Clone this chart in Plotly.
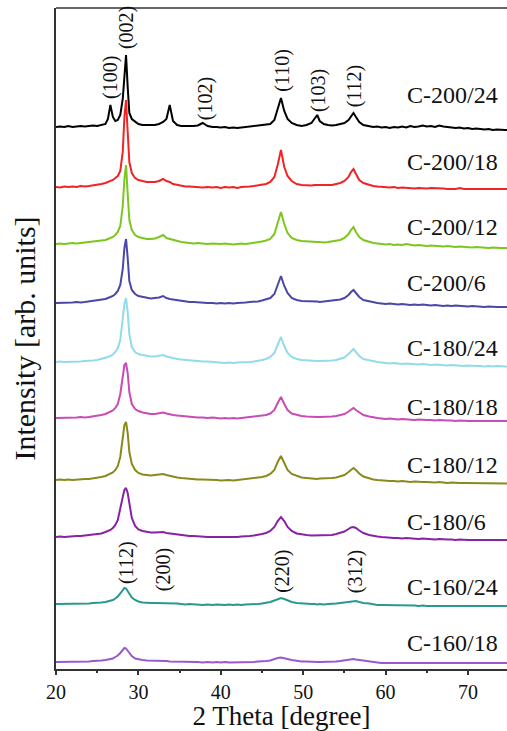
import plotly.graph_objects as go

# 2-theta sample positions (degrees)
two_theta = [
    20.0, 20.5, 21.0, 21.5, 22.0, 22.5, 23.0, 23.5, 24.0, 24.5, 25.0, 25.5,
    26.0, 26.3, 26.6, 26.9, 27.2, 27.5, 27.8, 28.1, 28.3, 28.5, 28.7, 28.9, 29.2, 29.6, 30.0, 30.5,
    31.0, 31.5, 32.0, 32.5, 33.0, 33.4, 33.8, 34.2, 34.7, 35.2, 35.7, 36.2, 36.7, 37.2, 37.8, 38.4, 39.0, 39.5,
    40.0, 40.5, 41.0, 41.5, 42.0, 42.5, 43.0, 43.5, 44.0, 44.5, 45.0, 45.5, 46.0, 46.5, 46.9, 47.3, 47.7, 48.1, 48.6, 49.2, 49.8,
    50.4, 51.0, 51.4, 51.7, 52.0, 52.5, 53.0, 53.5, 54.0, 54.5, 55.0, 55.5, 55.8, 56.1, 56.4, 56.8, 57.3, 58.0, 58.5, 59.0, 59.5,
    60.0, 60.5, 61.0, 61.5, 62.0, 62.5, 63.0, 63.5, 64.0, 64.5, 65.0, 65.5, 66.0, 66.5, 67.0, 67.5,
    68.0, 68.5, 69.0, 69.5, 70.0, 70.5, 71.0, 71.5, 72.0, 72.5, 73.0, 73.5, 74.0, 74.5, 75.0,
]

sample_names = ["C-200/24", "C-200/18", "C-200/12", "C-200/6", "C-180/24",
                "C-180/18", "C-180/12", "C-180/6", "C-160/24", "C-160/18"]

# vertical stacking offsets (arb. units)
offsets = [542, 482, 425, 366, 307, 251, 189, 132, 65, 7]

I_200_24 = [
    0, 0.5, 0, 1, 0, 0.5, 1, 0.5, 1, 1.5, 1, 2,
    3, 8, 22, 10, 6, 7, 12, 28, 50, 72, 40, 14, 8, 5, 3, 2,
    2, 1.5, 2, 3, 5, 8, 22, 6, 2, 1, 1, 0.5, 1, 1.5, 4, 1, 0, 0,
    -0.5, 0, -1, -0.5, -1, -0.5, 0, 0, 0.5, 1, 1.5, 2, 3, 7, 18, 29, 16, 8, 4, 2, 1,
    2, 4, 8, 12, 6, 3, 2, 1.5, 2, 3, 4, 7, 11, 14, 10, 5, 2, 0.5, 0, 0.5, -0.5,
    0, -1, 0, -0.5, 0.5, -0.5, 1, 0, 0.5, 1.5, 0.5, 1, 0, 1.5, 0.5, 0,
    -0.5, -1, -0.5, -1.5, -1, -2, -1.5, -2, -2.5, -2, -3, -2.5, -3, -3, -3,
]
I_200_18 = [
    0, -0.5, 0.5, 0, 0.5, 0, 1, 0.5, 1, 1.5, 2, 3,
    4, 5, 6, 7, 9, 11, 16, 35, 70, 87, 55, 25, 14, 9, 7, 6,
    5, 5, 5, 6, 8, 6, 5, 3, 2, 1, 0.5, 0.5, 0, 0, -0.5, 0, -0.5, 0,
    -1, 0, -0.5, 0, -1, 0, 0, 0.5, 1, 1.5, 2, 3, 5, 10, 22, 37, 20, 11, 6, 3, 2,
    1.5, 1.5, 2, 2, 1.5, 1.5, 2, 2, 3, 4, 6, 10, 15, 18, 13, 7, 4, 2, 1, 0.5, 0,
    0, -0.5, 0, -1, -0.5, -1, -1, -1.5, -1, -1.5, -1.5, -1, -1, -1.5, -1.5, -2,
    -2, -2, -1, -2, -2, -2, -2, -2, -2, -2, -2, -2, -2, -2, -2,
]
I_200_12 = [
    0, 0.5, 0, 0.5, 1, 0.5, 1, 1, 1.5, 2, 2.5, 3,
    4, 5, 6, 7, 9, 12, 18, 38, 65, 79, 50, 24, 14, 9, 7, 6,
    5, 5, 5.5, 7, 9, 6, 5, 4, 3, 2, 1.5, 1, 0.5, 1, 0.5, 0, 0.5, 0,
    0, 0.5, 0, -0.5, 0, 0.5, 0, 0.5, 1, 2, 2.5, 3.5, 5, 10, 22, 32, 20, 11, 6, 4, 3,
    2.5, 2, 2, 2, 2, 1.5, 2, 2.5, 3, 4, 6, 10, 14, 17, 12, 7, 4, 2, 1, 0.5, 0,
    -0.5, 0, -1, -0.5, -1, 0, -1, -1.5, -1, -1.5, -2, -1.5, -2, -2, -2.5, -2,
    -2.5, -3, -2.5, -3, -3, -3.5, -3, -3.5, -3.5, -4, -3.5, -4, -4, -4, -4,
]
I_200_6 = [
    0, 0, 0.5, 0, 0.5, 1, 0.5, 1, 1.5, 2, 2.5, 3.5,
    4, 5, 6, 7, 9, 12, 18, 34, 55, 64, 45, 22, 13, 9, 7, 6,
    5, 4.5, 5, 5.5, 7, 5, 4, 3.5, 2.5, 2, 1.5, 1, 1, 0.5, 0.5, 0, 0, -0.5,
    0, -0.5, 0, -0.5, 0, 0, 0.5, 1, 1, 1.5, 2.5, 3.5, 5, 9, 19, 27, 17, 10, 5, 3, 2,
    2, 1.5, 1.5, 1.5, 1, 1.5, 1.5, 2, 2.5, 3.5, 5, 8, 11, 13, 10, 6, 3, 1.5, 0.5, 0, -0.5,
    -1, -0.5, -1, -1.5, -1, -1.5, -2, -1.5, -2, -1.5, -2, -2.5, -2, -2.5, -3, -2.5,
    -3, -2.5, -3, -3, -3.5, -3, -3.5, -3.5, -4, -3.5, -4, -4, -4, -4, -4,
]
I_180_24 = [
    0, 0.5, 0, 0, 0.5, 0, 0.5, 1, 1, 1.5, 2, 3,
    4, 5, 6, 7.5, 10, 14, 22, 42, 58, 64, 50, 28, 15, 10, 8, 7,
    6, 5.5, 5.5, 6, 7, 5.5, 4.5, 4, 3, 2.5, 2, 1.5, 1, 1, 0.5, 0.5, 0, -0.5,
    -0.5, -1, -0.5, -1, -0.5, -0.5, 0, 0, 0.5, 1, 2, 3, 5, 9, 18, 25, 16, 9, 5, 3, 2,
    1.5, 1, 1, 1, 1, 1, 1.5, 1.5, 2, 3, 4.5, 8, 11, 13, 10, 6, 3, 1.5, 0.5, 0, -0.5,
    -1, -1.5, -1, -1.5, -2, -1.5, -2, -2, -2.5, -2, -2.5, -3, -2.5, -3, -3, -3.5,
    -3, -3.5, -3.5, -4, -3.5, -4, -4, -4, -4.5, -4, -4.5, -4, -4.5, -4.5, -4.5,
]
I_180_18 = [
    0, 0, 0.5, 0, 0.5, 0.5, 1, 0.5, 1, 1.5, 2, 3,
    4, 5, 6, 7.5, 10, 14, 24, 42, 53, 55, 45, 26, 14, 9, 7, 5.5,
    4.5, 4, 4, 4.5, 5.5, 4.5, 3.5, 3, 2.5, 2, 1.5, 1, 1, 0.5, 0.5, 0, 0.5, 0,
    -0.5, 0, -0.5, 0, -0.5, 0, 0.5, 0.5, 1, 1.5, 2, 3, 4.5, 8, 15, 21, 14, 8, 4.5, 3, 2,
    1.5, 1, 1, 1, 1, 1, 1, 1.5, 2, 3, 4, 6.5, 8.5, 10, 8, 5.5, 3, 1.5, 0.5, 0, -0.5,
    -1, -0.5, -1, -1.5, -1, -1.5, -1.5, -2, -1.5, -2, -2, -2, -2.5, -2, -2.5, -2.5,
    -2.5, -3, -2.5, -3, -3, -3, -3, -3, -3, -3, -3, -3, -3, -3, -3,
]
I_180_12 = [
    0, 0.5, 0, 0.5, 0, 0.5, 1, 1, 1, 1.5, 2, 3,
    4, 5, 6, 7.5, 10, 14, 23, 42, 55, 58, 47, 28, 16, 10, 7, 5.5,
    5, 4.5, 5, 5.5, 6, 5, 4, 3, 2.5, 2, 1.5, 1, 1, 0.5, 0.5, 0.5, 0, 0,
    -0.5, 0, 0, -0.5, 0, 0, 0.5, 1, 1.5, 2, 3, 4, 6, 10, 18, 24, 17, 10, 6, 4, 2.5,
    2, 1.5, 1.5, 1, 1.5, 1.5, 2, 2, 2.5, 3.5, 5, 8, 10.5, 12, 10, 6.5, 3.5, 1.5, 0.5, 0, -0.5,
    -0.5, -1, -1, -1.5, -1, -1.5, -2, -1.5, -2, -2, -2, -2.5, -2.5, -2, -2.5, -3,
    -2.5, -3, -3, -3, -3, -3, -3.5, -3, -3, -3.5, -3, -3.5, -3.5, -3.5, -3.5,
]
I_180_6 = [
    0, 0.5, 0, 0.5, 0.5, 1, 1, 1.5, 1.5, 2, 2.5, 3.5,
    5, 6, 7, 9, 12, 17, 27, 40, 47, 49, 44, 32, 19, 11, 7.5, 6,
    5, 4.5, 4.5, 4.5, 5, 4, 3.5, 3, 2.5, 2, 1.5, 1, 1, 0.5, 0.5, 0, 0, 0,
    0, -0.5, 0, 0, 0, 0.5, 0.5, 1, 1.5, 2, 3, 4, 6, 10, 16, 20, 16, 10, 6, 3.5, 2.5,
    2, 1.5, 1.5, 1.5, 1.5, 1.5, 2, 2, 3, 4, 5.5, 8, 9.5, 10, 9, 6.5, 4, 2, 1, 0.5, 0,
    -0.5, -0.5, -1, -1, -1.5, -1, -1.5, -1.5, -2, -1.5, -2, -2, -2.5, -2, -2.5, -2.5,
    -2.5, -3, -2.5, -3, -3, -3, -3, -3, -3, -3, -3, -3, -3, -3, -3,
]
I_160_24 = [
    0, 0, 0.5, 0, 0, 0.5, 0, 0.5, 0.5, 1, 1, 1.5,
    2, 2.5, 3, 4, 5.5, 7.5, 10.5, 14, 16, 15.5, 13, 10, 6.5, 4, 2.5, 1.5,
    1, 1, 1, 1, 1, 1, 0.5, 0.5, 0.5, 0, -0.5, 0, -0.5, -0.5, -1, -0.5, -1, -0.5,
    -1, -1, -0.5, -1, -0.5, -1, -0.5, -0.5, 0, 0, 0.5, 1, 2, 3.5, 5, 6, 5, 3.5, 2, 1, 0.5,
    0, 0, 0, -0.5, 0, -0.5, 0, 0, 0.5, 1, 1.5, 2.5, 3, 3, 3, 2, 1, 0.5, -0.5, -1, -1,
    -1, -1, -1.5, -1, -1.5, -1.5, -1.5, -1.5, -2, -1.5, -2, -2, -2, -2, -2, -2,
    -2, -2, -2, -2, -2, -2, -2, -2, -2, -2, -2, -2, -2, -2, -2,
]
I_160_18 = [
    0, 0, 0.5, 0, 0.5, 0, 0.5, 0.5, 0.5, 1, 1, 1.5,
    2, 2.5, 3, 3.5, 5, 6.5, 9, 12, 14, 13.5, 11.5, 9, 6, 3.5, 2.5, 2,
    1.5, 1.5, 1, 1, 1, 1, 0.5, 0.5, 0.5, 0, 0, 0, 0, 0, -0.5, 0, -0.5, 0,
    -0.5, 0, -0.5, -0.5, 0, -0.5, 0, 0, 0, 0.5, 0.5, 1, 1.5, 3, 4, 4.5, 4, 3, 2, 1, 0.5,
    0.5, 0, 0, 0, 0, 0, 0, 0, 0.5, 1, 1.5, 2.5, 3, 3, 2.5, 2, 1, 0, -0.5, -0.5, -1,
    -1, -1, -1, -1, -1, -1, -1, -1, -1, -1, -1, -1, -1, -1, -1, -1,
    -1, -1, -1, -1, -1, -1, -1, -1, -1, -1, -1, -1, -1, -1, -1,
]

intensities = [I_200_24, I_200_18, I_200_12, I_200_6, I_180_24,
               I_180_18, I_180_12, I_180_6, I_160_24, I_160_18]

line_colors = ["#000000", "#f02424", "#7cc61e", "#4b47a8", "#92dbe8",
               "#c84cb4", "#8a8a1c", "#8a22a6", "#2a998c", "#9a58d0"]

# sample-name label heights (arb. units)
name_y = [574, 507, 442, 386, 321, 262, 204, 147, 82, 26]
name_x = 62.3

# Miller indices annotations
hkl_top = ["(100)", "(002)", "(102)", "(110)", "(103)", "(112)"]
hkl_top_x = [26.55, 28.5, 38.1, 47.4, 51.8, 56.2]
hkl_top_y = [592, 641, 570, 599, 578, 583]
hkl_bot = ["(112)", "(200)", "(220)", "(312)"]
hkl_bot_x = [28.5, 33.0, 47.4, 56.3]
hkl_bot_y = [106, 99, 98, 97]

for arr in intensities:
    assert len(arr) == len(two_theta), len(arr)

fig = go.Figure()
for name, off, vals, col in zip(sample_names, offsets, intensities, line_colors):
    fig.add_trace(go.Scatter(
        x=two_theta, y=[off + v for v in vals], mode="lines", name=name,
        line=dict(color=col, width=2), showlegend=False, hoverinfo="skip"))

SERIF = "Liberation Serif"
for name, yy in zip(sample_names, name_y):
    fig.add_annotation(x=name_x, y=yy, text=name, showarrow=False, xanchor="left",
                       yanchor="middle", font=dict(family=SERIF, size=24, color="#111"))
for lab, xx, yy in list(zip(hkl_top, hkl_top_x, hkl_top_y)) + list(zip(hkl_bot, hkl_bot_x, hkl_bot_y)):
    fig.add_annotation(x=xx, y=yy, text=lab, showarrow=False, textangle=-90,
                       xanchor="center", yanchor="middle",
                       font=dict(family=SERIF, size=20, color="#111"))

fig.add_shape(type="line", xref="paper", yref="paper", x0=0, x1=1, y0=1, y1=1,
              line=dict(color="#333", width=1.5))

fig.update_layout(
    width=507, height=731, plot_bgcolor="white", paper_bgcolor="white",
    font=dict(family=SERIF),
    margin=dict(l=56, r=0, t=8, b=62, autoexpand=False),
    xaxis=dict(range=[20, 74.73], tickvals=[20, 30, 40, 50, 60, 70], ticks="outside",
               ticklen=4, tickwidth=1.5, tickcolor="#333", showline=True, linecolor="#333",
               linewidth=1.5, showgrid=False, zeroline=False,
               minor=dict(dtick=5, ticks="outside", ticklen=2, tickcolor="#333", tickwidth=1.5),
               tickfont=dict(family=SERIF, size=20, color="#111"),
               title=dict(text="2 Theta [degree]", font=dict(family=SERIF, size=27, color="#111"),
                          standoff=4)),
    yaxis=dict(range=[0, 661], showticklabels=False, ticks="", showline=True, linecolor="#333",
               linewidth=1.5, showgrid=False, zeroline=False,
               title=dict(text="Intensity [arb. units]", font=dict(family=SERIF, size=30, color="#111"),
                          standoff=10)),
)

# remove the default page margin so the 507x731 figure fills the window exactly
fig.write_html("out.html", config={"displayModeBar": False},
               post_script="document.body.style.margin='0';document.body.style.overflow='hidden';")
